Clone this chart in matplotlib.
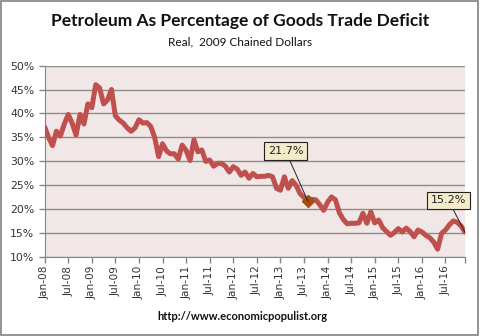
import matplotlib
matplotlib.use("Agg")
import matplotlib.pyplot as plt
from matplotlib.patches import Rectangle

# monthly share of goods trade deficit due to petroleum, Jan-08 .. Dec-16
start_year = 2008
pct = [37.2, 35.0, 33.3, 36.3, 35.3, 37.8, 39.8, 38.0, 35.5, 39.8, 37.8, 42.0,
       41.2, 46.0, 45.3, 42.0, 42.8, 45.0, 39.5, 38.6, 38.0, 37.0, 36.3, 37.0,
       38.7, 38.0, 38.1, 37.3, 35.0, 31.0, 33.7, 32.2, 31.6, 31.6, 30.5, 33.4,
       32.3, 30.2, 34.5, 32.0, 32.4, 30.0, 30.3, 29.0, 29.6, 29.6, 29.0, 27.8,
       28.9, 28.4, 27.1, 27.8, 26.5, 27.5, 26.8, 26.9, 26.9, 27.1, 26.8, 24.4,
       24.0, 26.8, 24.4, 26.0, 25.0, 23.3, 22.5, 21.7, 22.1, 22.0, 21.0, 19.8,
       21.5, 22.6, 22.0, 19.3, 17.9, 17.0, 17.1, 17.1, 17.2, 19.2, 17.1, 19.5,
       17.2, 17.8, 16.2, 15.4, 14.6, 15.2, 16.0, 15.3, 16.1, 15.4, 14.3, 15.7,
       15.3, 14.6, 14.1, 13.2, 11.7, 15.0, 15.7, 16.8, 17.6, 17.3, 16.5, 15.2]
highlight = [67, 107]   # Aug-13 and Dec-16

months = list(range(len(pct)))
tick_pos = list(range(0, len(pct), 6))
tick_lbl = ["%s-%02d" % ("Jan" if i % 12 == 0 else "Jul", (start_year + i // 12) % 100)
            for i in tick_pos]

fig = plt.figure(figsize=(4.8, 3.36), dpi=100)
fig.patch.set_facecolor("white")
fig.patches.append(Rectangle((0.002, 0.003), 0.994, 0.994, transform=fig.transFigure,
                             fill=False, edgecolor="#808080", linewidth=1.2))

ax = fig.add_axes([0.093, 0.234, 0.876, 0.571])
ax.set_facecolor("#F2E7E7")

ax.plot(months, pct, color="#C0504D", linewidth=3.6, solid_joinstyle="round",
        solid_capstyle="round", zorder=3)
ax.plot([highlight[0]], [pct[highlight[0]]], marker="D", markersize=6,
        color="#A0500F", zorder=4)

ax.set_xlim(0, len(pct) - 1)
ax.set_ylim(10, 50)
ax.set_yticks(range(10, 51, 5))
ax.set_yticklabels(["%d%%" % v for v in range(10, 51, 5)])
ax.set_xticks(tick_pos + [len(pct) - 1])
ax.set_xticklabels(tick_lbl + [""], rotation=90)

ax.grid(axis="y", color="#8C8C8C", linewidth=1.0)
ax.set_axisbelow(True)
for side in ["top", "right"]:
    ax.spines[side].set_visible(False)
for side in ["left", "bottom"]:
    ax.spines[side].set_color("#868686")
ax.tick_params(axis="both", colors="#868686", labelcolor="#333333", labelsize=7.8,
               length=4, width=1)
ax.tick_params(axis="x", labelsize=7.6, pad=2)

# value callouts
offsets = {67: (-16, 36), 107: (-12, 23)}
for i in highlight:
    ax.annotate("%.1f%%" % pct[i], xy=(i, pct[i]), xytext=offsets[i],
                textcoords="offset points", ha="center", va="center",
                fontsize=8, color="#222222",
                bbox=dict(boxstyle="square,pad=0.35", facecolor="#F4EBCB",
                          edgecolor="#222222", linewidth=0.8),
                arrowprops=dict(arrowstyle="-", color="#222222", linewidth=0.7,
                                shrinkA=0, shrinkB=0),
                zorder=5)

fig.text(0.5, 0.938, "Petroleum As Percentage of Goods Trade Deficit",
         ha="center", va="center", fontsize=12.5, fontweight="bold",
         family="Lato", color="#111111")
fig.text(0.5, 0.875, "Real,  2009 Chained Dollars", ha="center", va="center",
         fontsize=8.5, family="Lato", color="#111111")
fig.text(0.506, 0.057, "http://www.economicpopulist.org", ha="center", va="center",
         fontsize=8, fontweight="bold", family="Lato", color="#111111")

fig.savefig("out.png", dpi=100)
